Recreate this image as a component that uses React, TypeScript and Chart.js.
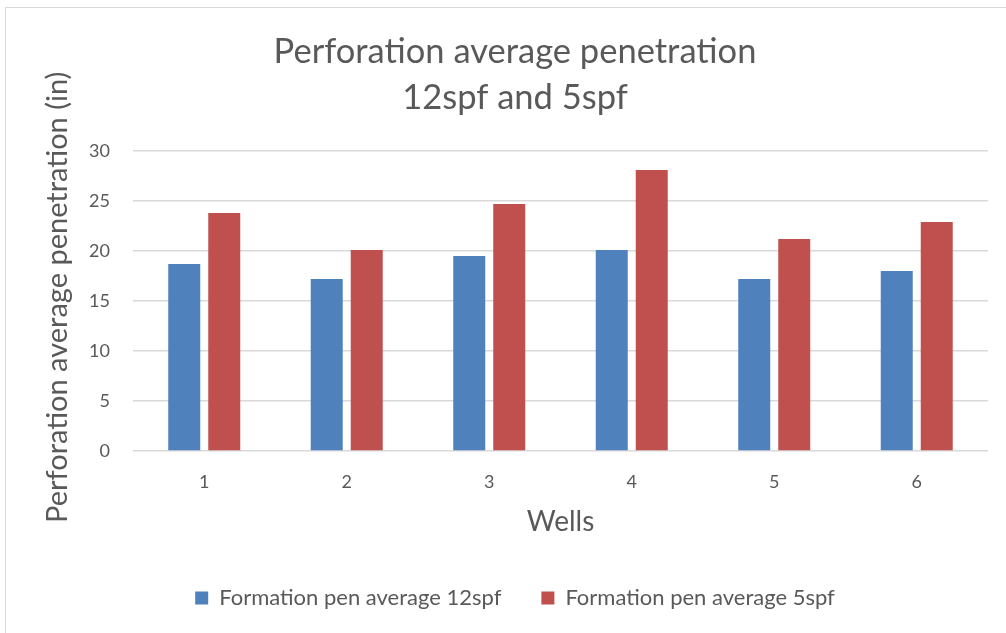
import React, { useEffect, useRef } from "react";
import { Chart, registerables } from "chart.js";

Chart.register(...registerables);

const wells = ["1", "2", "3", "4", "5", "6"];
const pen12spf = [18.7, 17.2, 19.5, 20.1, 17.2, 18.0];
const pen5spf = [23.8, 20.1, 24.7, 28.1, 21.2, 22.9];
const seriesNames = ["Formation pen average 12spf", "Formation pen average 5spf"];
const titleLines = ["Perforation average penetration", "12spf and 5spf"];
const yTitle = " Perforation average penetration (in)";
const xTitle = "Wells";

const FONT = "Lato, 'Open Sans', sans-serif";
const TEXT = "#595959";

export default function App() {
  const ref = useRef<HTMLCanvasElement | null>(null);

  useEffect(() => {
    if (!ref.current) return;
    const chart = new Chart(ref.current, {
      type: "bar",
      data: {
        labels: wells,
        datasets: [
          {
            label: seriesNames[0],
            data: pen12spf,
            backgroundColor: "#4F81BD",
            categoryPercentage: 0.5614,
            barPercentage: 0.8,
          },
          {
            label: seriesNames[1],
            data: pen5spf,
            backgroundColor: "#C0504D",
            categoryPercentage: 0.5614,
            barPercentage: 0.8,
          },
        ],
      },
      options: {
        responsive: false,
        animation: false,
        layout: { padding: { left: 24, right: 0, top: 0, bottom: 14 } },
        plugins: {
          title: {
            display: true,
            text: titleLines,
            color: TEXT,
            font: { family: FONT, size: 34.5, weight: "normal", lineHeight: 1.32 },
            padding: { top: 29.25, bottom: 30.75 },
          },
          legend: {
            position: "bottom",
            labels: {
              color: TEXT,
              font: { family: FONT, size: 22 },
              boxWidth: 13,
              boxHeight: 13,
              padding: 40,
            },
          },
          tooltip: { enabled: false },
        },
        scales: {
          x: {
            grid: { display: false, drawTicks: false },
            border: { display: false },
            ticks: { color: TEXT, font: { family: FONT, size: 18 }, padding: 20 },
            title: {
              display: true,
              text: xTitle,
              color: TEXT,
              font: { family: FONT, size: 28, lineHeight: 1.2 },
              padding: { top: 0, bottom: 8.2 },
            },
            afterFit: (s: any) => {
              s.height = 96;
            },
          },
          y: {
            min: 0,
            max: 30,
            ticks: { stepSize: 5, color: TEXT, font: { family: FONT, size: 18 }, padding: 23 },
            grid: { color: "#d9d9d9", lineWidth: 1.5, drawTicks: false },
            border: { display: false },
            title: {
              display: true,
              text: yTitle,
              color: TEXT,
              font: { family: FONT, size: 29, lineHeight: 1.2 },
              padding: { top: 16.6, bottom: 0 },
            },
            afterFit: (s: any) => {
              s.width = 109;
            },
          },
          yRight: {
            type: "linear",
            position: "right",
            display: true,
            grid: { display: false, drawTicks: false },
            border: { display: false },
            ticks: { display: false },
            afterFit: (s: any) => {
              s.width = 18;
            },
          },
        },
      },
    } as any);
    return () => chart.destroy();
  }, []);

  return (
    <div
      style={{
        position: "fixed",
        left: 0,
        top: 0,
        width: 1006,
        height: 633,
        overflow: "hidden",
        background: "#fff",
      }}
    >
      <div
        style={{
          position: "absolute",
          left: 5,
          top: 7,
          width: 1020,
          height: 650,
          border: "1.5px solid #d9d9d9",
          boxSizing: "border-box",
        }}
      />
      <canvas
        ref={ref}
        width={1006}
        height={633}
        style={{ position: "absolute", left: 0, top: 0, width: 1006, height: 633 }}
      />
    </div>
  );
}
